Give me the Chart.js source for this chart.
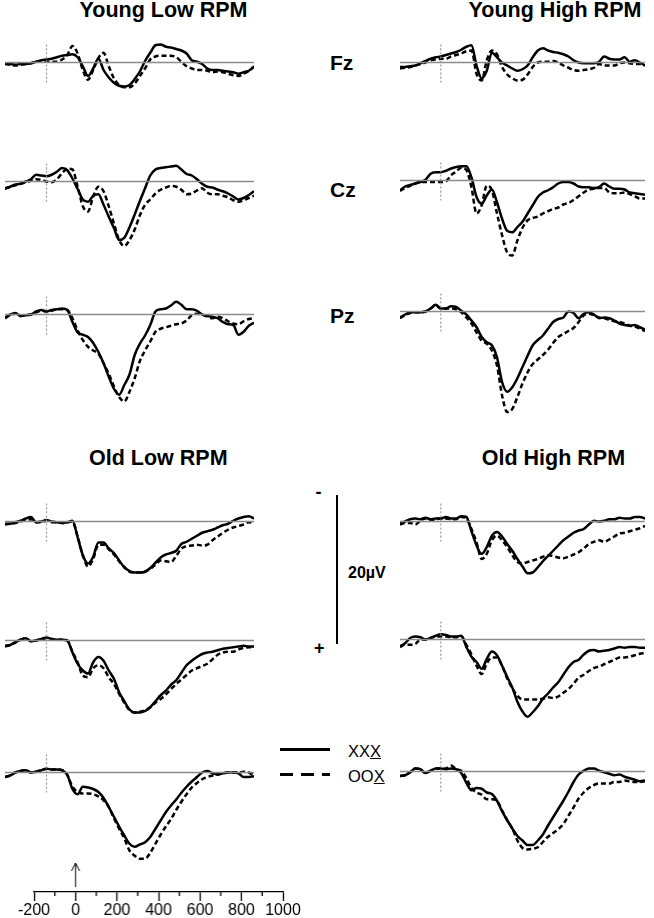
<!DOCTYPE html>
<html><head><meta charset="utf-8">
<script src="https://cdn.jsdelivr.net/npm/chart.js@4.4.1/dist/chart.umd.min.js"></script>
<style>
html,body{margin:0;padding:0;background:#fff;overflow:hidden}
#page{position:relative;width:654px;height:918px;font-family:"Liberation Sans",Arial,sans-serif;color:#000;overflow:hidden}
#page canvas{position:absolute}
.t{position:absolute;white-space:nowrap;line-height:1}
.title{font-size:21.5px;font-weight:bold;width:240px;text-align:center}
.el{font-size:21px;font-weight:bold}
.leg{font-size:16.5px}
</style></head><body><div id="page">
<div class="t title" style="left:43.5px;top:-0.5px">Young Low RPM</div>
<div class="t title" style="left:435px;top:-0.5px">Young High RPM</div>
<div class="t title" style="left:38.3px;top:447.5px">Old Low RPM</div>
<div class="t title" style="left:433.4px;top:447.5px">Old High RPM</div>
<div class="t el" style="left:330px;top:52.2px">Fz</div>
<div class="t el" style="left:330px;top:178.7px">Cz</div>
<div class="t el" style="left:330px;top:305.2px">Pz</div>
<div class="t" style="left:315.5px;top:482.8px;font-size:18px;font-weight:bold">-</div>
<div class="t" style="left:314px;top:638.5px;font-size:18px;font-weight:bold">+</div>
<div class="t" style="left:348px;top:564.5px;font-size:16px;font-weight:bold">20µV</div>
<div style="position:absolute;left:335.5px;top:495px;width:2.5px;height:149px;background:#000"></div>
<div style="position:absolute;left:280px;top:747.5px;width:50px;height:3px;background:#000"></div>
<div style="position:absolute;left:280px;top:772.8px;width:50px;height:3px;background:repeating-linear-gradient(to right,#000 0 13px,transparent 13px 21px)"></div>
<div class="t leg" style="left:348px;top:742.5px">XX<u>X</u></div>
<div class="t leg" style="left:348px;top:767.5px">OO<u>X</u></div>
</div>
<script>
// time points (ms)
const times = [-340,-315,-290,-265,-240,-215,-190,-165,-140,-115,-90,-65,-40,-15,10,35,60,85,110,135,160,185,210,235,260,285,310,335,360,385,410,435,460,485,510,535,560,585,610,635,660,685,710,735,760,785,810,835,860];
const axisTicks = [-200,0,200,400,600,800,1000];
const minorTicks = [-100,100,300,500,700,900];
const onsetMark = -140;

// amplitudes in µV (positive plotted downward)
const youngLowFzXXX = [0.1,0.2,0.3,0.2,0.2,0.1,-0.1,-0.3,-0.4,-0.5,-0.7,-0.9,-1.0,-1.1,-0.7,0.5,1.8,0.8,-0.5,1.0,2.0,2.7,3.1,3.2,3.0,2.2,1.2,-0.2,-1.3,-2.3,-2.4,-2.1,-2.0,-1.8,-1.6,-1.2,-0.3,-0.1,0.2,0.8,1.0,1.0,1.1,1.2,1.3,1.5,1.3,1.1,0.6];
const youngLowFzOOX = [0.2,0.3,0.4,0.3,0.2,0.1,-0.1,-0.2,-0.1,-0.1,-0.1,-0.4,-1.0,-2.2,-1.2,1.0,2.3,1.0,-0.6,-1.3,0.5,2.1,3.0,3.3,3.3,2.8,1.8,0.8,-0.4,-0.8,-0.9,-0.9,-0.9,-0.7,-0.1,0.5,0.8,1.0,1.0,1.1,1.3,1.2,1.3,1.5,1.7,1.8,1.5,1.1,0.5];
const youngLowCzXXX = [0.9,0.7,0.4,0.3,0.0,-0.3,-0.9,-0.8,-0.7,-0.9,-1.3,-1.8,-1.5,-0.4,1.0,2.4,2.7,1.9,1.7,3.1,4.7,6.2,7.8,7.5,6.1,4.4,2.6,0.9,-0.8,-1.6,-1.8,-1.9,-2.0,-2.1,-1.6,-1.0,-0.8,-0.3,0.3,0.7,0.8,1.1,1.3,1.6,2.0,2.4,2.2,1.8,1.3];
const youngLowCzOOX = [1.0,0.7,0.5,0.3,0.1,-0.1,-0.3,-0.2,0.0,0.1,-0.3,-1.1,-1.7,-1.6,0.7,3.3,4.0,2.0,0.7,1.3,3.3,5.6,7.8,8.6,7.8,6.4,4.5,3.1,2.4,1.6,1.1,0.8,0.6,0.7,1.1,1.7,1.6,1.2,0.9,1.5,1.7,1.7,1.9,2.1,2.5,2.7,2.5,2.2,1.9];
const youngLowPzXXX = [0.4,0.0,-0.2,0.2,0.1,0.0,-0.4,-0.6,-0.4,-0.6,-0.7,-0.8,-0.6,1.0,2.4,2.7,3.0,3.8,5.0,6.5,8.3,9.9,10.7,9.4,8.0,5.4,3.9,2.8,1.4,-0.4,-0.7,-0.8,-1.2,-1.7,-1.3,-0.7,-0.7,-0.5,0.0,0.2,0.3,0.5,1.0,1.3,1.4,2.7,2.3,1.5,1.1];
const youngLowPzOOX = [0.5,0.1,-0.1,0.2,0.1,0.0,-0.3,-0.5,-0.4,-0.5,-0.7,-0.7,-0.6,0.5,2.1,3.4,4.3,4.8,5.2,6.5,7.9,9.6,11.0,11.6,10.3,8.5,6.2,4.8,3.6,2.3,1.9,1.7,1.5,1.3,1.2,0.8,0.1,-0.1,0.0,0.3,0.5,0.3,0.5,0.9,1.2,1.3,0.9,0.6,0.5];
const youngHighFzXXX = [0.6,0.6,0.5,0.4,0.1,-0.2,-0.5,-0.7,-0.8,-1.0,-1.2,-1.4,-1.7,-2.1,-2.3,0.4,2.1,1.1,-1.3,-0.7,0.0,0.4,0.8,1.1,0.9,0.4,-0.7,-1.6,-1.9,-1.6,-1.4,-1.3,-1.1,-0.8,-0.3,0.0,0.1,0.1,0.1,-0.1,-0.8,-0.5,-0.4,-0.4,-0.7,-0.1,-0.3,0.0,0.4];
const youngHighFzOOX = [0.8,0.7,0.6,0.4,0.2,0.0,-0.3,-0.4,-0.5,-0.5,-0.8,-1.0,-1.2,-1.5,-1.6,1.5,2.4,-0.3,-1.6,-1.1,0.6,1.6,2.1,2.4,2.3,1.6,0.6,0.0,-0.1,-0.1,-0.2,0.0,0.4,0.7,1.0,1.1,1.0,0.9,0.7,0.2,0.4,0.4,0.4,0.1,0.0,0.1,0.2,0.2,0.4];
const youngHighCzXXX = [1.3,0.8,0.6,0.4,0.2,-0.1,-0.9,-1.1,-1.1,-1.3,-1.6,-1.8,-1.9,-1.9,-0.4,2.2,3.1,2.0,1.2,2.9,5.1,6.7,6.9,6.2,5.5,4.4,3.3,2.2,1.6,1.3,0.9,0.4,0.2,0.2,0.4,0.8,0.9,0.9,1.0,0.9,0.4,0.8,1.1,1.1,1.2,1.6,1.7,1.8,1.9];
const youngHighCzOOX = [1.4,1.0,0.7,0.4,0.2,0.2,0.2,0.2,0.2,0.1,-0.7,-1.2,-1.7,-1.4,0.9,4.4,3.3,0.7,1.3,4.4,7.3,9.6,10.0,8.0,6.3,5.3,5.0,4.8,4.4,4.1,3.8,3.6,3.2,3.0,2.6,2.1,1.6,1.2,1.1,1.0,1.0,1.6,1.7,1.7,1.6,1.8,2.1,2.4,2.4];
const youngHighPzXXX = [0.8,0.4,0.1,0.1,0.1,0.0,-0.4,-0.9,-0.4,-0.4,-0.7,-0.6,-0.1,0.4,1.2,2.1,3.4,4.1,4.5,6.1,9.4,10.7,10.1,8.9,7.4,5.9,4.5,3.8,3.2,2.3,1.4,1.0,0.8,0.0,0.2,0.9,0.3,0.1,0.4,0.9,0.8,0.9,1.2,1.6,1.8,1.9,1.8,2.1,2.4];
const youngHighPzOOX = [0.9,0.5,0.2,0.1,0.1,0.0,-0.4,-0.8,-0.4,-0.4,-0.4,-0.3,0.1,0.8,1.6,2.8,3.9,4.3,5.2,7.2,11.2,13.4,13.0,11.4,9.6,8.1,7.0,6.4,5.8,5.1,4.2,3.4,3.0,2.6,2.2,1.4,0.5,0.3,0.5,0.8,0.9,1.1,1.3,1.4,1.6,1.9,2.0,2.3,2.6];
const oldLowFzXXX = [0.3,0.3,0.1,-0.1,-0.4,-0.6,0.1,0.0,-0.2,0.0,0.1,0.2,0.1,-0.1,2.1,4.5,5.6,4.7,2.8,2.8,3.6,4.2,5.2,6.1,6.6,6.8,6.8,6.7,6.2,5.5,4.8,4.4,4.2,3.9,3.0,2.7,2.3,1.9,1.5,1.3,1.1,0.8,0.5,0.3,-0.1,-0.4,-0.6,-0.7,-0.4];
const oldLowFzOOX = [0.4,0.3,0.2,0.0,-0.2,-0.3,0.1,0.1,-0.1,0.1,0.1,0.2,0.1,0.0,2.0,4.5,6.0,5.0,3.1,3.1,3.7,4.4,5.3,6.1,6.7,6.8,6.8,6.7,6.3,5.8,5.2,5.3,5.4,4.6,3.6,3.3,3.2,3.1,3.2,3.1,2.5,2.0,1.5,1.1,0.8,0.6,0.4,0.1,0.2];
const oldLowCzXXX = [0.7,0.6,0.2,-0.1,-0.3,0.1,0.0,-0.2,-0.4,-0.2,-0.1,-0.1,0.0,1.6,3.1,4.0,4.4,2.9,2.2,2.7,4.0,5.1,6.9,8.1,9.2,9.6,9.6,9.4,8.9,8.1,7.3,6.7,5.9,5.3,4.3,3.3,2.7,2.2,1.8,1.6,1.5,1.3,1.1,1.0,0.9,0.8,0.7,0.8,0.8];
const oldLowCzOOX = [0.8,0.6,0.3,-0.1,-0.3,0.1,0.0,-0.2,-0.3,-0.2,-0.1,-0.1,0.0,1.5,2.9,4.7,4.9,3.7,3.3,3.7,4.9,5.8,7.1,8.3,9.3,9.6,9.5,9.3,8.9,8.3,7.8,7.2,6.5,5.8,5.2,4.6,4.0,3.7,3.4,3.1,2.5,1.9,1.6,1.5,1.5,1.2,1.0,0.9,0.9];
const oldLowPzXXX = [0.6,0.4,0.0,-0.2,-0.3,0.0,-0.1,-0.3,-0.5,-0.4,-0.4,-0.3,0.3,2.2,2.9,1.9,2.0,2.2,2.6,3.4,4.6,5.9,7.2,8.4,9.5,9.9,9.6,9.3,8.6,7.5,6.4,5.3,4.4,3.6,2.7,1.9,1.2,0.6,0.0,-0.2,0.1,0.3,0.1,0.0,0.0,0.1,0.6,0.6,0.5];
const oldLowPzOOX = [0.6,0.4,0.0,-0.2,-0.3,0.0,-0.1,-0.3,-0.5,-0.4,-0.4,-0.3,0.3,1.9,2.6,2.8,2.8,2.9,3.2,3.7,4.6,6.1,7.5,8.8,10.4,11.1,11.5,11.5,10.7,9.5,8.3,7.2,6.2,5.0,3.9,2.9,2.0,1.4,0.9,0.6,0.4,0.2,0.1,0.0,0.0,0.0,-0.1,0.0,0.4];
const oldHighFzXXX = [0.2,0.0,-0.3,-0.4,-0.3,-0.5,-0.3,-0.4,-0.4,-0.6,-0.4,-0.4,-0.7,-0.6,1.3,3.2,4.3,3.4,1.9,1.4,2.0,3.0,3.9,5.0,6.0,6.9,6.8,6.1,5.3,4.6,3.9,3.2,2.5,2.0,1.5,1.2,1.0,0.4,-0.1,0.0,-0.1,-0.3,-0.3,-0.5,-0.4,-0.4,-0.6,-0.6,-0.4];
const oldHighFzOOX = [0.4,0.2,0.2,0.4,-0.1,-0.4,-0.1,-0.3,-0.4,-0.4,-0.3,-0.3,-0.6,-0.4,1.0,2.8,5.0,4.3,2.5,1.9,2.5,3.4,4.5,5.4,5.6,5.4,5.2,5.0,4.7,4.5,4.6,4.8,4.9,4.7,4.4,4.1,3.6,3.0,2.7,2.5,2.7,2.4,2.0,1.6,1.5,1.3,1.1,0.9,0.6];
const oldHighCzXXX = [0.9,0.5,-0.2,-0.4,-0.3,0.0,-0.2,-0.5,-0.7,-0.6,-0.4,-0.4,-0.5,1.0,2.3,3.0,3.9,2.6,1.6,2.1,3.5,5.0,6.4,8.3,9.6,10.3,9.7,8.9,7.9,7.2,6.4,5.7,4.7,3.7,3.0,2.7,2.0,1.5,1.4,1.6,1.5,1.4,1.2,1.0,1.1,1.0,1.0,1.1,1.1];
const oldHighCzOOX = [1.0,0.7,0.7,0.6,0.0,0.0,-0.2,-0.4,-0.4,-0.4,-0.3,-0.3,-0.4,0.7,2.0,3.5,4.6,3.2,2.4,2.4,3.5,5.2,6.5,7.5,8.0,8.0,8.0,8.0,7.9,7.7,7.8,7.6,7.1,6.6,5.9,5.1,4.7,4.2,3.8,3.6,3.3,3.0,2.7,2.4,2.4,2.3,2.1,1.9,1.8];
const oldHighPzXXX = [0.6,0.5,0.1,-0.4,-0.3,0.2,-0.1,-0.4,-0.4,-0.3,-0.4,-0.3,0.2,1.5,2.5,2.2,2.3,2.8,3.0,3.9,5.3,6.5,7.6,8.6,9.2,9.8,9.8,9.2,8.4,7.2,6.1,5.0,3.9,2.7,1.4,0.4,-0.1,-0.4,-0.4,-0.1,0.1,0.3,0.5,0.4,0.7,0.9,1.1,1.3,1.2];
const oldHighPzOOX = [0.6,0.5,0.1,-0.4,-0.3,0.2,-0.1,-0.4,-0.4,-0.4,-0.8,-0.3,-0.1,0.9,2.2,2.8,3.1,3.7,3.7,3.9,5.2,6.5,7.6,9.2,10.2,10.4,10.3,10.1,9.4,8.7,8.2,7.7,7.0,5.9,4.8,3.6,2.8,2.2,1.8,1.6,1.6,1.6,1.4,1.4,1.2,1.3,1.4,1.4,1.3];

const page = document.getElementById('page');
const pts = arr => arr.map((v, i) => ({x: times[i], y: v}));
const Y_MIN = -5, Y_MAX = 15, PX_PER_UV = 7.5;

function makeCanvas(left, top, w, h) {
  const c = document.createElement('canvas');
  c.width = w; c.height = h;
  c.style.left = left + 'px'; c.style.top = top + 'px';
  c.style.width = w + 'px'; c.style.height = h + 'px';
  page.appendChild(c);
  return c;
}

function panel(left, width, baseline, xxx, oox) {
  const h = (Y_MAX - Y_MIN) * PX_PER_UV;
  const c = makeCanvas(left, baseline + Y_MIN * PX_PER_UV, width, h);
  new Chart(c, {
    type: 'line',
    data: { datasets: [
      { data: [{x: times[0], y: 0}, {x: times[times.length - 1], y: 0}], borderColor: '#8c8c8c', borderWidth: 1.5 },
      { data: [{x: onsetMark, y: -2.4}, {x: onsetMark, y: 2.8}], borderColor: '#9a9a9a', borderWidth: 1.2, borderDash: [2, 2] },
      { data: pts(oox), borderColor: '#000', borderWidth: 2.5, borderDash: [5, 3] },
      { data: pts(xxx), borderColor: '#000', borderWidth: 2.5 }
    ]},
    options: {
      responsive: false, animation: false, events: [],
      layout: { padding: 0 },
      elements: { point: { radius: 0 }, line: { cubicInterpolationMode: 'monotone', fill: false } },
      plugins: { legend: { display: false }, tooltip: { enabled: false } },
      scales: {
        x: { type: 'linear', display: false, min: times[0], max: times[times.length - 1] },
        y: { display: false, reverse: true, min: Y_MIN, max: Y_MAX }
      }
    }
  });
}

const LEFT_X = 5.45, LEFT_W = 249, RIGHT_X = 400, RIGHT_W = 245;
panel(LEFT_X, LEFT_W, 62.7, youngLowFzXXX, youngLowFzOOX);
panel(LEFT_X, LEFT_W, 181.7, youngLowCzXXX, youngLowCzOOX);
panel(LEFT_X, LEFT_W, 314.3, youngLowPzXXX, youngLowPzOOX);
panel(RIGHT_X, RIGHT_W, 62.3, youngHighFzXXX, youngHighFzOOX);
panel(RIGHT_X, RIGHT_W, 180, youngHighCzXXX, youngHighCzOOX);
panel(RIGHT_X, RIGHT_W, 311, youngHighPzXXX, youngHighPzOOX);
panel(LEFT_X, LEFT_W, 521, oldLowFzXXX, oldLowFzOOX);
panel(LEFT_X, LEFT_W, 640, oldLowCzXXX, oldLowCzOOX);
panel(LEFT_X, LEFT_W, 772.3, oldLowPzXXX, oldLowPzOOX);
panel(RIGHT_X, RIGHT_W, 521, oldHighFzXXX, oldHighFzOOX);
panel(RIGHT_X, RIGHT_W, 639, oldHighCzXXX, oldHighCzOOX);
panel(RIGHT_X, RIGHT_W, 771, oldHighPzXXX, oldHighPzOOX);

// bottom time axis
const axisDecor = {
  id: 'axisDecor',
  afterDraw(chart) {
    const s = chart.scales.x, ctx = chart.ctx;
    ctx.save();
    ctx.strokeStyle = '#000'; ctx.lineWidth = 1.3;
    minorTicks.forEach(v => {
      const px = s.getPixelForValue(v);
      ctx.beginPath(); ctx.moveTo(px, s.top); ctx.lineTo(px, s.top + 4); ctx.stroke();
    });
    const x0 = s.getPixelForValue(0);
    ctx.lineWidth = 1;
    ctx.beginPath(); ctx.moveTo(x0, s.top - 5); ctx.lineTo(x0, s.top - 29); ctx.stroke();
    ctx.beginPath(); ctx.moveTo(x0 - 4, s.top - 21); ctx.lineTo(x0, s.top - 29); ctx.lineTo(x0 + 4, s.top - 21); ctx.stroke();
    ctx.restore();
  }
};
const axC = makeCanvas(34.3 - 25, 858, 248.4 + 50, 62);
new Chart(axC, {
  type: 'line',
  data: { datasets: [] },
  options: {
    responsive: false, animation: false, events: [],
    layout: { padding: { left: 25, right: 25, top: 24, bottom: 0 } },
    plugins: { legend: { display: false }, tooltip: { enabled: false } },
    scales: {
      x: {
        type: 'linear', min: axisTicks[0], max: axisTicks[axisTicks.length - 1],
        afterBuildTicks: s => { s.ticks = axisTicks.map(v => ({ value: v })); },
        ticks: { color: '#000', font: { family: 'Liberation Sans', size: 16 }, padding: 0, maxRotation: 0, autoSkip: false, callback: v => String(v) },
        grid: { drawOnChartArea: false, drawTicks: true, tickLength: 9, tickColor: '#000', tickWidth: 1.3 },
        border: { display: true, color: '#000', width: 1.3 },
        afterFit: s => { s.height = 28; }
      },
      y: { display: false, min: 0, max: 1 }
    }
  },
  plugins: [axisDecor]
});
</script>
</body></html>
